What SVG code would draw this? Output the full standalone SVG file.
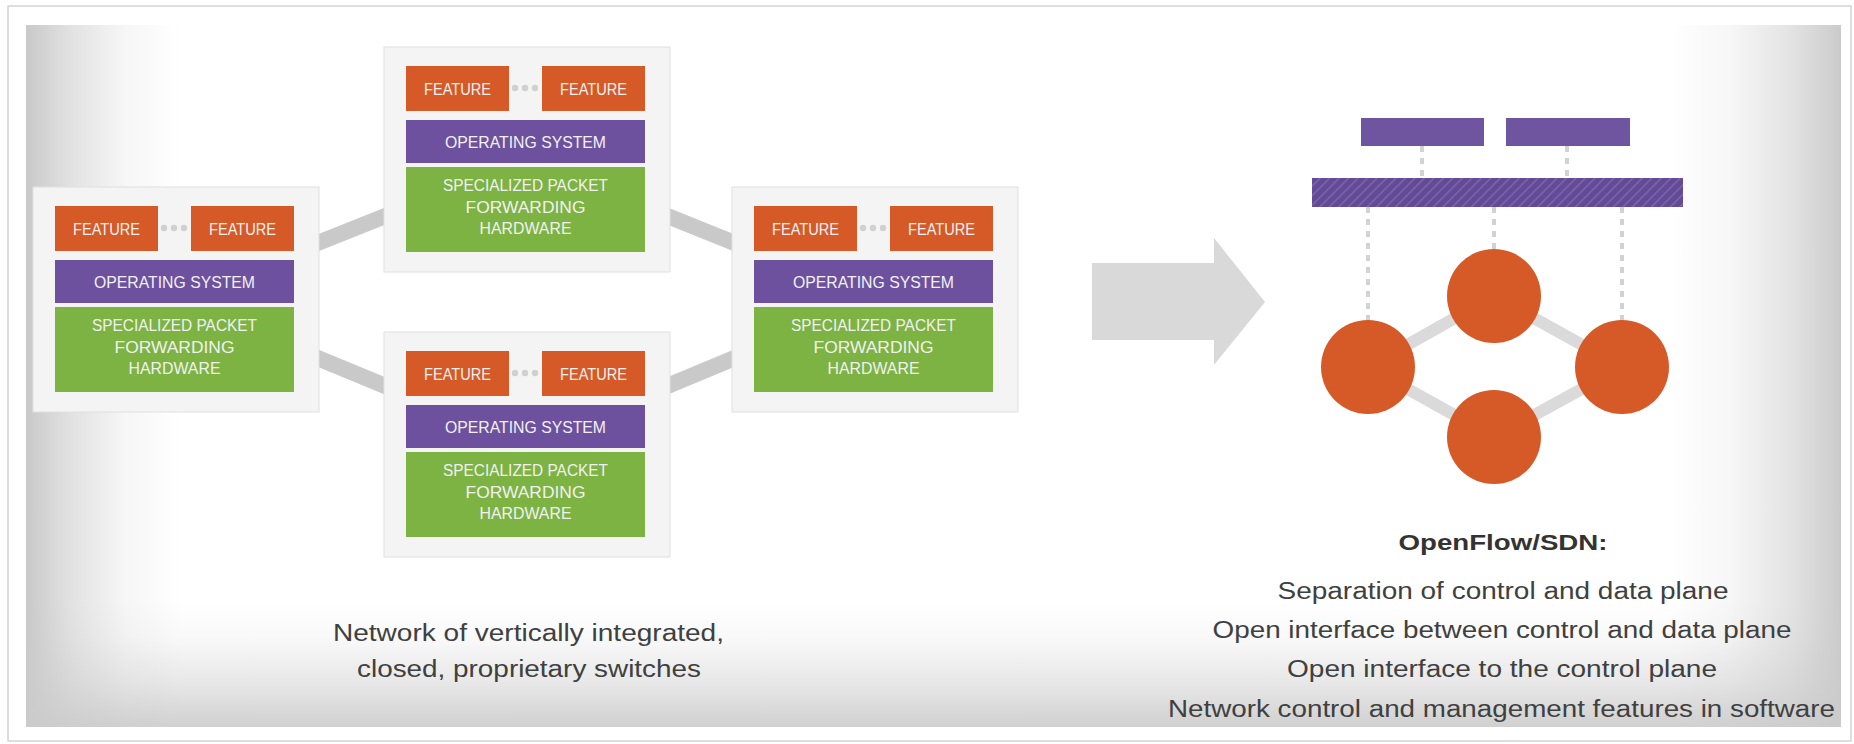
<svg xmlns="http://www.w3.org/2000/svg" width="1854" height="744" viewBox="0 0 1854 744">
  <defs>
    <style>
      .panel { fill: #f4f4f4; stroke: #e0e0e0; stroke-width: 1; }
      .feature { fill: #d65a27; }
      .os { fill: #6d519e; }
      .hw { fill: #7db343; }
      .dot { fill: #d0d0d0; }
      .lbl { font-family: "Liberation Sans", Arial, sans-serif; font-size: 16px; fill: #f1f1f1; text-anchor: middle; }
      .link { stroke: #c9c9c9; stroke-width: 16; fill: none; }
      .mesh { stroke: #dadada; stroke-width: 12; fill: none; }
      .dash { stroke: #d2d2d2; stroke-width: 4; stroke-dasharray: 6 6; fill: none; }
      .app { fill: #6f55a0; }
      .node { fill: #d65a27; }
      .caption { font-family: "Liberation Sans", Arial, sans-serif; font-size: 23px; fill: #404040; text-anchor: middle; }
      .title { font-family: "Liberation Sans", Arial, sans-serif; font-size: 22px; font-weight: bold; fill: #333333; text-anchor: middle; }
    </style>
    <linearGradient id="fadeLeft" x1="26" y1="0" x2="180" y2="0" gradientUnits="userSpaceOnUse">
      <stop offset="0" stop-color="#c6c6c6" stop-opacity="0.95"/>
      <stop offset="0.3" stop-color="#c6c6c6" stop-opacity="0.5"/>
      <stop offset="0.65" stop-color="#c6c6c6" stop-opacity="0.15"/>
      <stop offset="1" stop-color="#c6c6c6" stop-opacity="0"/>
    </linearGradient>
    <linearGradient id="fadeRight" x1="1841" y1="0" x2="1670" y2="0" gradientUnits="userSpaceOnUse">
      <stop offset="0" stop-color="#c8c8c8" stop-opacity="0.95"/>
      <stop offset="0.3" stop-color="#c8c8c8" stop-opacity="0.5"/>
      <stop offset="0.65" stop-color="#c8c8c8" stop-opacity="0.15"/>
      <stop offset="1" stop-color="#c8c8c8" stop-opacity="0"/>
    </linearGradient>
    <linearGradient id="fadeBottom" x1="0" y1="727" x2="0" y2="600" gradientUnits="userSpaceOnUse">
      <stop offset="0" stop-color="#cbcbcb" stop-opacity="0.9"/>
      <stop offset="0.35" stop-color="#cbcbcb" stop-opacity="0.45"/>
      <stop offset="0.7" stop-color="#cbcbcb" stop-opacity="0.12"/>
      <stop offset="1" stop-color="#cbcbcb" stop-opacity="0"/>
    </linearGradient>
    <pattern id="hatch" width="6.7" height="6.7" patternUnits="userSpaceOnUse" patternTransform="rotate(45)">
      <rect width="6.7" height="6.7" fill="#634a96"/>
      <rect x="0" y="0" width="1.6" height="6.7" fill="#7a64aa"/>
    </pattern>
  </defs>

  <!-- page frame -->
  <rect x="0" y="0" width="1854" height="744" fill="#ffffff"/>
  <rect x="8" y="6" width="1843" height="735" fill="#ffffff" stroke="#d4d4d4" stroke-width="1.5"/>

  <!-- slide backdrop with soft edge shading -->
  <g id="backdrop">
    <rect x="26" y="25" width="1815" height="702" fill="#ffffff"/>
    <rect x="26" y="25" width="154" height="702" fill="url(#fadeLeft)"/>
    <rect x="1670" y="25" width="171" height="702" fill="url(#fadeRight)"/>
    <rect x="26" y="600" width="1815" height="127" fill="url(#fadeBottom)"/>
  </g>

  <!-- links between the switches (drawn behind the boxes) -->
  <g id="connectors">
    <line class="link" x1="176" y1="299.5" x2="527" y2="159.5"/>
    <line class="link" x1="176" y1="299.5" x2="527" y2="444.5"/>
    <line class="link" x1="527" y1="159.5" x2="875" y2="299.5"/>
    <line class="link" x1="527" y1="444.5" x2="875" y2="299.5"/>
  </g>

  <!-- switch: left -->
  <g id="switch-left" transform="translate(33,187)">
    <rect class="panel" width="286" height="225"/>
    <rect class="feature" x="22" y="19" width="103" height="45"/>
    <rect class="feature" x="158" y="19" width="103" height="45"/>
    <circle class="dot" cx="131" cy="41" r="3.2"/><circle class="dot" cx="141" cy="41" r="3.2"/><circle class="dot" cx="151" cy="41" r="3.2"/>
    <rect class="os" x="22" y="73" width="239" height="43"/>
    <rect class="hw" x="22" y="120" width="239" height="85"/>
    <text class="lbl" x="73.5" y="47.5" textLength="67" lengthAdjust="spacingAndGlyphs">FEATURE</text>
    <text class="lbl" x="209.5" y="47.5" textLength="67" lengthAdjust="spacingAndGlyphs">FEATURE</text>
    <text class="lbl" x="141.5" y="100.5" textLength="161" lengthAdjust="spacingAndGlyphs">OPERATING SYSTEM</text>
    <text class="lbl" x="141.5" y="144" textLength="165" lengthAdjust="spacingAndGlyphs">SPECIALIZED PACKET</text>
    <text class="lbl" x="141.5" y="165.5" textLength="120" lengthAdjust="spacingAndGlyphs">FORWARDING</text>
    <text class="lbl" x="141.5" y="187" textLength="92" lengthAdjust="spacingAndGlyphs">HARDWARE</text>
  </g>

  <!-- switch: top -->
  <g id="switch-top" transform="translate(384,47)">
    <rect class="panel" width="286" height="225"/>
    <rect class="feature" x="22" y="19" width="103" height="45"/>
    <rect class="feature" x="158" y="19" width="103" height="45"/>
    <circle class="dot" cx="131" cy="41" r="3.2"/><circle class="dot" cx="141" cy="41" r="3.2"/><circle class="dot" cx="151" cy="41" r="3.2"/>
    <rect class="os" x="22" y="73" width="239" height="43"/>
    <rect class="hw" x="22" y="120" width="239" height="85"/>
    <text class="lbl" x="73.5" y="47.5" textLength="67" lengthAdjust="spacingAndGlyphs">FEATURE</text>
    <text class="lbl" x="209.5" y="47.5" textLength="67" lengthAdjust="spacingAndGlyphs">FEATURE</text>
    <text class="lbl" x="141.5" y="100.5" textLength="161" lengthAdjust="spacingAndGlyphs">OPERATING SYSTEM</text>
    <text class="lbl" x="141.5" y="144" textLength="165" lengthAdjust="spacingAndGlyphs">SPECIALIZED PACKET</text>
    <text class="lbl" x="141.5" y="165.5" textLength="120" lengthAdjust="spacingAndGlyphs">FORWARDING</text>
    <text class="lbl" x="141.5" y="187" textLength="92" lengthAdjust="spacingAndGlyphs">HARDWARE</text>
  </g>

  <!-- switch: bottom -->
  <g id="switch-bottom" transform="translate(384,332)">
    <rect class="panel" width="286" height="225"/>
    <rect class="feature" x="22" y="19" width="103" height="45"/>
    <rect class="feature" x="158" y="19" width="103" height="45"/>
    <circle class="dot" cx="131" cy="41" r="3.2"/><circle class="dot" cx="141" cy="41" r="3.2"/><circle class="dot" cx="151" cy="41" r="3.2"/>
    <rect class="os" x="22" y="73" width="239" height="43"/>
    <rect class="hw" x="22" y="120" width="239" height="85"/>
    <text class="lbl" x="73.5" y="47.5" textLength="67" lengthAdjust="spacingAndGlyphs">FEATURE</text>
    <text class="lbl" x="209.5" y="47.5" textLength="67" lengthAdjust="spacingAndGlyphs">FEATURE</text>
    <text class="lbl" x="141.5" y="100.5" textLength="161" lengthAdjust="spacingAndGlyphs">OPERATING SYSTEM</text>
    <text class="lbl" x="141.5" y="144" textLength="165" lengthAdjust="spacingAndGlyphs">SPECIALIZED PACKET</text>
    <text class="lbl" x="141.5" y="165.5" textLength="120" lengthAdjust="spacingAndGlyphs">FORWARDING</text>
    <text class="lbl" x="141.5" y="187" textLength="92" lengthAdjust="spacingAndGlyphs">HARDWARE</text>
  </g>

  <!-- switch: right -->
  <g id="switch-right" transform="translate(732,187)">
    <rect class="panel" width="286" height="225"/>
    <rect class="feature" x="22" y="19" width="103" height="45"/>
    <rect class="feature" x="158" y="19" width="103" height="45"/>
    <circle class="dot" cx="131" cy="41" r="3.2"/><circle class="dot" cx="141" cy="41" r="3.2"/><circle class="dot" cx="151" cy="41" r="3.2"/>
    <rect class="os" x="22" y="73" width="239" height="43"/>
    <rect class="hw" x="22" y="120" width="239" height="85"/>
    <text class="lbl" x="73.5" y="47.5" textLength="67" lengthAdjust="spacingAndGlyphs">FEATURE</text>
    <text class="lbl" x="209.5" y="47.5" textLength="67" lengthAdjust="spacingAndGlyphs">FEATURE</text>
    <text class="lbl" x="141.5" y="100.5" textLength="161" lengthAdjust="spacingAndGlyphs">OPERATING SYSTEM</text>
    <text class="lbl" x="141.5" y="144" textLength="165" lengthAdjust="spacingAndGlyphs">SPECIALIZED PACKET</text>
    <text class="lbl" x="141.5" y="165.5" textLength="120" lengthAdjust="spacingAndGlyphs">FORWARDING</text>
    <text class="lbl" x="141.5" y="187" textLength="92" lengthAdjust="spacingAndGlyphs">HARDWARE</text>
  </g>

  <!-- caption under the switch network -->
  <g id="caption-left">
    <text class="caption" x="528.5" y="641" textLength="391" lengthAdjust="spacingAndGlyphs">Network of vertically integrated,</text>
    <text class="caption" x="529" y="677" textLength="344" lengthAdjust="spacingAndGlyphs">closed, proprietary switches</text>
  </g>

  <!-- transition arrow -->
  <g id="arrow">
    <polygon points="1092,263 1214,263 1214,238 1265,302 1214,365 1214,340 1092,340" fill="#d9d9d9"/>
  </g>

  <!-- SDN: dashed control links and data-plane mesh -->
  <g id="sdn-links">
    <line class="dash" x1="1422" y1="146" x2="1422" y2="178"/>
    <line class="dash" x1="1567" y1="146" x2="1567" y2="178"/>
    <line class="dash" x1="1368" y1="207" x2="1368" y2="322"/>
    <line class="dash" x1="1494" y1="207" x2="1494" y2="250"/>
    <line class="dash" x1="1622" y1="207" x2="1622" y2="322"/>
    <line class="mesh" x1="1494" y1="296" x2="1368" y2="367"/>
    <line class="mesh" x1="1494" y1="296" x2="1622" y2="367"/>
    <line class="mesh" x1="1368" y1="367" x2="1494" y2="437"/>
    <line class="mesh" x1="1622" y1="367" x2="1494" y2="437"/>
  </g>

  <g id="app-left"><rect class="app" x="1361" y="118" width="123" height="28"/></g>
  <g id="app-right"><rect class="app" x="1506" y="118" width="124" height="28"/></g>
  <g id="controller"><rect x="1312" y="178" width="371" height="29" fill="url(#hatch)"/></g>

  <g id="node-top"><circle class="node" cx="1494" cy="296" r="47"/></g>
  <g id="node-left"><circle class="node" cx="1368" cy="367" r="47"/></g>
  <g id="node-right"><circle class="node" cx="1622" cy="367" r="47"/></g>
  <g id="node-bottom"><circle class="node" cx="1494" cy="437" r="47"/></g>

  <!-- SDN summary -->
  <g id="caption-right">
    <text class="title" x="1503" y="550" textLength="209" lengthAdjust="spacingAndGlyphs">OpenFlow/SDN:</text>
    <text class="caption" x="1503" y="599" textLength="451" lengthAdjust="spacingAndGlyphs">Separation of control and data plane</text>
    <text class="caption" x="1502" y="638" textLength="579" lengthAdjust="spacingAndGlyphs">Open interface between control and data plane</text>
    <text class="caption" x="1502" y="677" textLength="430" lengthAdjust="spacingAndGlyphs">Open interface to the control plane</text>
    <text class="caption" x="1501.5" y="717" textLength="667" lengthAdjust="spacingAndGlyphs">Network control and management features in software</text>
  </g>
</svg>
